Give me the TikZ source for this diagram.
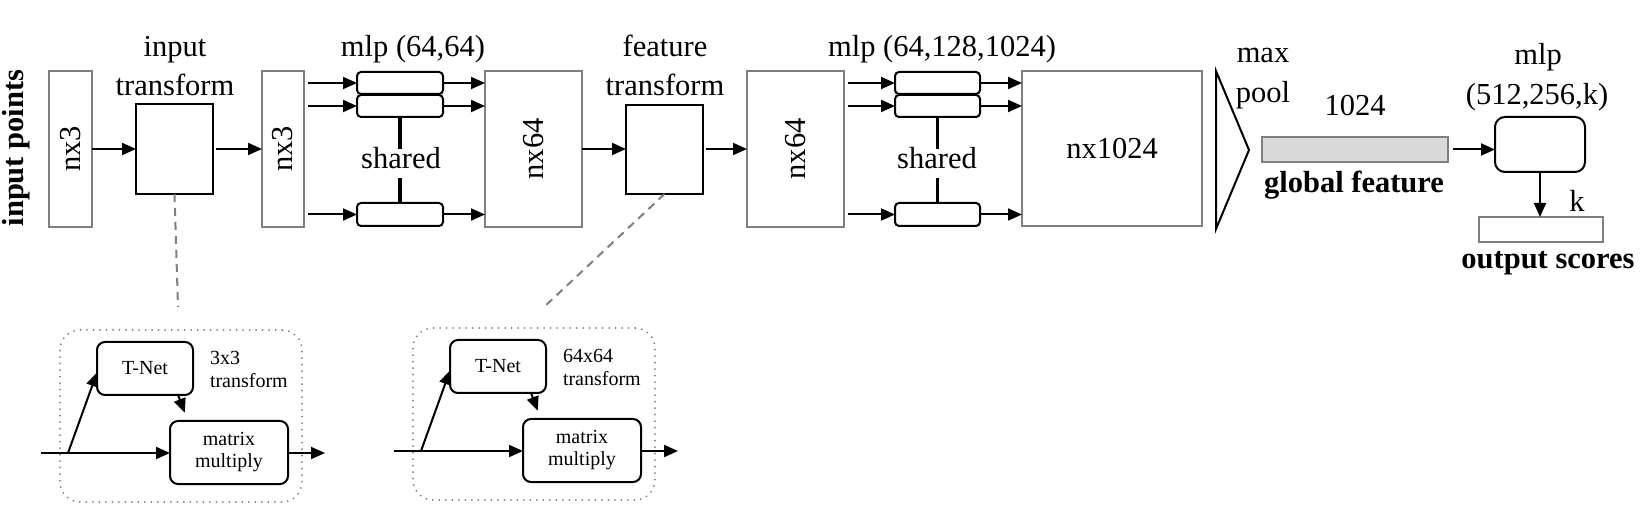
\documentclass[tikz,border=0pt]{standalone}
\usepackage{fontspec}
\setmainfont{Liberation Serif}
\usepackage{tikz}
\usetikzlibrary{arrows.meta,positioning,calc}
\definecolor{MyGray}{HTML}{7F7F7F}
\definecolor{MyFill}{HTML}{D9D9D9}
\def\MainSize{\fontsize{30.5}{36}\selectfont}
\def\InsetSize{\fontsize{20}{22}\selectfont}

\begin{document}
\begin{tikzpicture}[x=1pt, y=-1pt, font=\MainSize,
	every node/.style={inner sep=0pt, outer sep=0pt},
	graybox/.style={draw=MyGray, line width=1.6pt, minimum height=156pt},
	tfbox/.style={draw, line width=2.2pt, minimum width=77pt, minimum height=90pt},
	mlpbox/.style={draw, line width=2pt, rounded corners=4pt, minimum width=86pt, minimum height=22pt},
	tnetbox/.style={draw, line width=2pt, rounded corners=8pt, font=\InsetSize},
	arr/.style={line width=2pt, -{Triangle[length=14pt, width=12pt]}},
	shareline/.style={line width=3.5pt},
	dashline/.style={draw=MyGray, line width=2pt, dash pattern=on 8pt off 6pt},
	shtext/.style={anchor=base, text height=20pt, text depth=9pt}]
	\useasboundingbox (0,0) rectangle (1647,510);
	
	\node[rotate=90, font=\MainSize\bfseries] (inpts) at (16,148) {input points};
	
	% input and input transform
	\node[graybox, minimum width=43pt] (b1) at (70.5,149) {};
	\node[rotate=90] (b1txt) at (b1) {nx3};
	\node[tfbox] (itf) at (174.5,149) {};
	\node[anchor=base] (itftop) at (175,57) {input};
	\node[anchor=base] (itfbot) at (175,96) {transform};
	\draw[arr] (b1.east) -- (itf.west);
	\node[graybox, minimum width=42pt] (b2) at (283,149) {};
	\node[rotate=90] (b2txt) at (b2) {nx3};
	\draw[arr, shorten <=3pt] (itf.east) -- (b2.west);
	
	% mlp (64,64)
	\node[mlpbox] (m1A) at (400,83) {};
	\node[mlpbox] (m1B) at (400,106) {};
	\node[mlpbox, minimum height=23pt] (m1C) at (400,214.5) {};
	\node[anchor=base] (m1lab) at (413,57) {mlp (64,64)};
	\node[shtext] (sh1) at (401,169) {shared};
	\draw[shareline] (m1B.south) -- (m1B.south |- sh1.north);
	\draw[shareline] (m1C.north |- sh1.south) -- (m1C.north);
	\node[graybox, minimum width=97pt] (b3) at (533.5,149) {};
	\node[rotate=90] (b3txt) at (b3) {nx64};
	\foreach \r in {A,B,C}{
		\draw[arr, shorten <=4pt] (b2.east |- m1\r.west) -- (m1\r.west);
		\draw[arr] (m1\r.east) -- (m1\r.east -| b3.west);}
	
	% feature transform
	\node[tfbox, minimum height=89pt] (ftf) at (664.5,149.5) {};
	\node[anchor=base] (ftftop) at (665,57) {feature};
	\node[anchor=base] (ftfbot) at (665,96) {transform};
	\draw[arr] (b3.east) -- (b3.east -| ftf.west);
	\node[graybox, minimum width=97pt] (b4) at (795.5,149) {};
	\node[rotate=90] (b4txt) at (b4) {nx64};
	\draw[arr, shorten <=3pt] (ftf.east |- b4.west) -- (b4.west);
	
	% mlp (64,128,1024)
	\node[mlpbox, minimum width=85pt] (m2A) at (937.5,83) {};
	\node[mlpbox, minimum width=85pt] (m2B) at (937.5,106) {};
	\node[mlpbox, minimum width=85pt, minimum height=23pt] (m2C) at (937.5,214.5) {};
	\node[anchor=base] (m2lab) at (942,57) {mlp (64,128,1024)};
	\node[shtext] (sh2) at (937,169) {shared};
	\draw[shareline] (m2B.south) -- (m2B.south |- sh2.north);
	\draw[shareline] (m2C.north |- sh2.south) -- (m2C.north);
	\node[graybox, minimum width=180pt, minimum height=155pt] (b5) at (1112,148.5) {};
	\node (b5txt) at (b5) {nx1024};
	\foreach \r in {A,B,C}{
		\draw[arr, shorten <=4pt] (b4.east |- m2\r.west) -- (m2\r.west);
		\draw[arr] (m2\r.east) -- (m2\r.east -| b5.west);}
	
	% max pool
	\coordinate (mpA) at (1216,71);
	\coordinate (mpB) at (1249,150);
	\coordinate (mpC) at (1216,229);
	\draw[line width=2pt] (mpA) -- (mpB) -- (mpC) -- cycle;
	\node[anchor=base] (mx) at (1263,63) {max};
	\node[anchor=base] (pl) at (1263,103) {pool};
	
	% global feature
	\node[draw=MyGray, fill=MyFill, line width=2pt, minimum width=186pt, minimum height=25pt] (gf) at (1355,149.5) {};
	\node[anchor=base] (gfnum) at (1355,116) {1024};
	\node[anchor=base, font=\MainSize\bfseries] (gflab) at (1354,193) {global feature};
	
	% mlp (512,256,k) and output scores
	\node[draw, line width=2pt, rounded corners=10pt, minimum width=90pt, minimum height=55pt] (m3) at (1540,144.5) {};
	\node[anchor=base] (m3top) at (1538,65) {mlp};
	\node[anchor=base] (m3bot) at (1537,105) {(512,256,k)};
	\draw[arr, shorten <=5pt] (gf.east) -- (gf.east -| m3.west);
	\node[draw=MyGray, line width=1.6pt, minimum width=124pt, minimum height=25pt] (outb) at (1541,229.5) {};
	\draw[arr] (m3.south) -- (m3.south |- outb.north);
	\node[anchor=base] (kk) at (1577,212) {k};
	\node[anchor=base, font=\MainSize\bfseries] (outlab) at (1548,269) {output scores};
	
	% transform insets
	\foreach \dx/\dy/\dim/\nm in {0/0/3x3/a, 353/-2/64x64/b}{
		\begin{scope}[shift={(\dx,\dy)}]
			\node[draw=MyGray, line width=2pt, dash pattern=on 0pt off 6.5pt, line cap=round, rounded corners=20pt, minimum width=242pt, minimum height=172pt] (dot\nm) at (181,416) {};
			\node[tnetbox, minimum width=96pt, minimum height=53pt] (tnet\nm) at (145,368.5) {T-Net};
			\node[tnetbox, minimum width=118pt, minimum height=63pt, align=center] (mm\nm) at (229,452.5) {matrix\\multiply};
			\node[font=\InsetSize, anchor=base west] (tfa\nm) at (210,365) {\dim};
			\node[font=\InsetSize, anchor=base west] (tfb\nm) at (210,388) {transform};
			\coordinate (in\nm) at (41,453);
			\coordinate (br\nm) at (68,453);
			\coordinate (out\nm) at (325,453);
			\draw[arr] (in\nm) -- (in\nm -| mm\nm.west);
			\draw[arr] (br\nm) -- ([yshift=-4pt]tnet\nm.west);
			\draw[arr, shorten >=9pt] ([xshift=-15pt]tnet\nm.south east) -- ([xshift=-41pt]mm\nm.north);
			\draw[arr] (mm\nm.east |- out\nm) -- (out\nm);
		\end{scope}}
	
	% dashed links to the insets
	\coordinate (dsa) at (178,307);
	\coordinate (dsb) at (543,308);
	\draw[dashline] (itf.south) -- (dsa);
	\draw[dashline] (ftf.south) -- (dsb);
\end{tikzpicture}
\end{document}
